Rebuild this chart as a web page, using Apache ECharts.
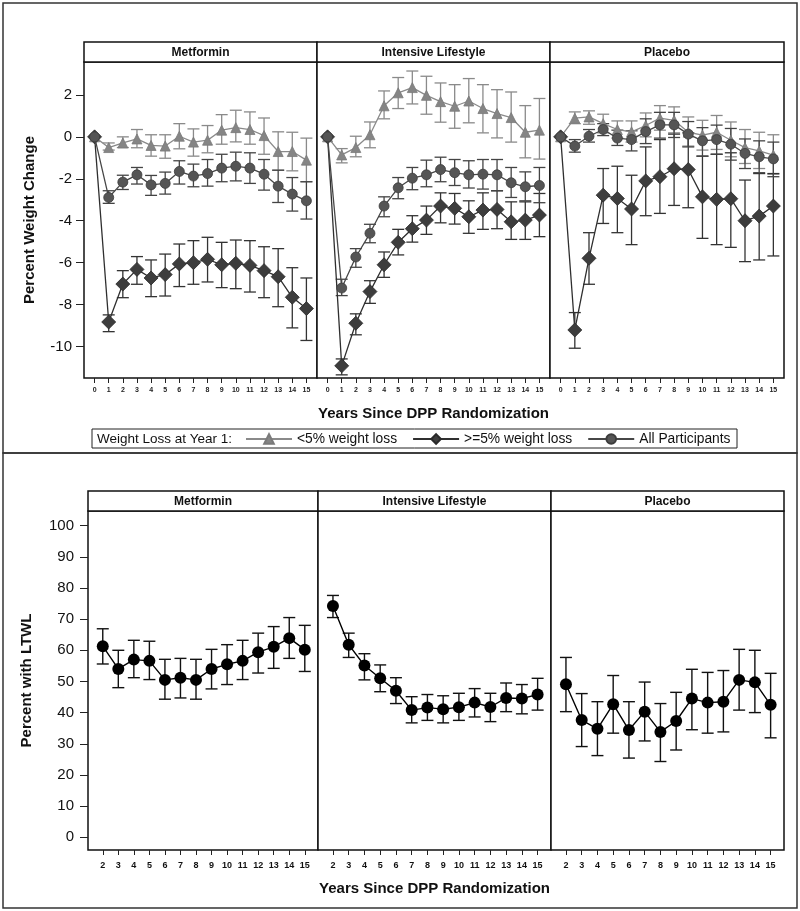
<!DOCTYPE html>
<html>
<head>
<meta charset="utf-8">
<script src="https://cdn.jsdelivr.net/npm/echarts@6/dist/echarts.min.js"></script>
<style>html,body{margin:0;padding:0;background:#fff}#c{width:800px;height:911px}</style>
</head>
<body>
<div id="c"></div>
<script>
// ---------- DATA ----------
const facetNames = ['Metformin', 'Intensive Lifestyle', 'Placebo'];
const groupNames = ['<5% weight loss', '>=5% weight loss', 'All Participants'];
const yearsTop = [0,1,2,3,4,5,6,7,8,9,10,11,12,13,14,15];
const yearsBottom = [2,3,4,5,6,7,8,9,10,11,12,13,14,15];
const yTicksTop = [-10,-8,-6,-4,-2,0,2];
const yTicksBottom = [0,10,20,30,40,50,60,70,80,90,100];

// Metformin: percent weight change
const metLt5   = [0,-0.51,-0.29,-0.10,-0.41,-0.44,0.03,-0.25,-0.16,0.32,0.44,0.35,0.06,-0.70,-0.70,-1.11];
const metLt5Lo = [null,-0.63,-0.51,-0.52,-0.92,-1.02,-0.57,-0.92,-0.76,-0.35,-0.24,-0.35,-0.83,-1.59,-1.62,-2.14];
const metLt5Hi = [null,-0.29,0.00,0.35,0.10,0.10,0.63,0.38,0.54,1.06,1.27,1.19,0.90,0.24,0.22,-0.06];
const metGe5   = [0,-8.83,-7.02,-6.32,-6.73,-6.57,-6.06,-6.00,-5.84,-6.10,-6.03,-6.13,-6.38,-6.67,-7.65,-8.19];
const metGe5Lo = [null,-9.29,-7.67,-7.03,-7.62,-7.59,-7.14,-7.03,-6.92,-7.19,-7.24,-7.40,-7.67,-8.10,-9.11,-9.71];
const metGe5Hi = [null,-8.49,-6.38,-5.71,-5.87,-5.59,-5.11,-4.95,-4.79,-5.03,-4.92,-4.95,-5.24,-5.33,-6.24,-6.73];
const metAll   = [0,-2.89,-2.16,-1.81,-2.29,-2.22,-1.65,-1.87,-1.75,-1.49,-1.40,-1.49,-1.78,-2.35,-2.73,-3.05];
const metAllLo = [null,-3.17,-2.51,-2.25,-2.79,-2.73,-2.25,-2.38,-2.35,-2.14,-2.10,-2.22,-2.54,-3.13,-3.54,-3.92];
const metAllHi = [null,-2.57,-1.83,-1.46,-1.84,-1.68,-1.14,-1.30,-1.08,-0.83,-0.73,-0.76,-1.08,-1.59,-1.94,-2.14];

// Intensive Lifestyle
const ilsLt5   = [0,-0.86,-0.51,0.10,1.48,2.10,2.35,1.98,1.68,1.46,1.71,1.35,1.11,0.92,0.22,0.32];
const ilsLt5Lo = [null,-1.24,-0.95,-0.52,0.86,1.35,1.57,1.08,0.70,0.41,0.67,0.19,-0.05,-0.25,-1.00,-1.06];
const ilsLt5Hi = [null,-0.56,0.03,0.71,2.19,2.83,3.14,2.89,2.57,2.49,2.78,2.49,2.25,2.14,1.49,1.83];
const ilsGe5   = [0,-10.92,-8.89,-7.38,-6.10,-5.03,-4.38,-3.97,-3.30,-3.41,-3.81,-3.49,-3.46,-4.05,-3.97,-3.73];
const ilsGe5Lo = [null,-11.35,-9.44,-7.94,-6.70,-5.63,-5.02,-4.65,-4.10,-4.16,-4.60,-4.41,-4.38,-4.89,-4.89,-4.76];
const ilsGe5Hi = [null,-10.59,-8.44,-6.86,-5.49,-4.41,-3.76,-3.30,-2.67,-2.70,-3.05,-2.67,-2.57,-3.10,-3.10,-2.70];
const ilsAll   = [0,-7.21,-5.73,-4.60,-3.30,-2.43,-1.97,-1.81,-1.56,-1.71,-1.81,-1.78,-1.81,-2.19,-2.38,-2.32];
const ilsAllLo = [null,-7.57,-6.22,-5.05,-3.81,-2.95,-2.52,-2.38,-2.14,-2.32,-2.44,-2.49,-2.57,-2.89,-3.05,-3.14];
const ilsAllHi = [null,-6.79,-5.33,-4.17,-2.86,-1.94,-1.46,-1.11,-0.97,-1.08,-1.14,-1.08,-1.08,-1.46,-1.67,-1.46];

// Placebo
const plaLt5   = [0,0.89,0.95,0.63,0.35,0.24,0.54,0.89,0.79,0.22,0.08,0.22,-0.16,-0.51,-0.67,-0.87];
const plaLt5Lo = [null,0.63,0.60,0.19,-0.06,-0.25,0.00,0.32,0.19,-0.44,-0.63,-0.60,-0.95,-1.27,-1.51,-1.78];
const plaLt5Hi = [null,1.19,1.24,1.08,0.76,0.76,1.14,1.49,1.43,0.95,0.79,1.02,0.71,0.35,0.22,0.10];
const plaGe5   = [0,-9.21,-5.79,-2.78,-2.94,-3.44,-2.10,-1.90,-1.52,-1.56,-2.86,-2.98,-2.95,-4.00,-3.78,-3.30];
const plaGe5Lo = [null,-10.08,-7.03,-4.13,-4.57,-5.14,-3.76,-3.65,-3.27,-3.38,-4.84,-5.14,-5.27,-5.95,-5.87,-5.68];
const plaGe5Hi = [null,-8.38,-4.57,-1.51,-1.40,-1.83,-0.48,-0.13,0.13,0.19,-0.92,-0.83,-0.76,-2.06,-1.75,-1.75];
const plaAll   = [0,-0.44,0.03,0.35,-0.06,-0.13,0.25,0.57,0.57,0.13,-0.19,-0.13,-0.35,-0.79,-0.95,-1.05];
const plaAllLo = [null,-0.73,-0.25,0.06,-0.41,-0.67,-0.32,-0.06,-0.03,-0.48,-0.92,-0.83,-1.11,-1.51,-1.71,-1.90];
const plaAllHi = [null,-0.13,0.35,0.63,0.32,0.29,0.86,1.17,1.17,0.73,0.44,0.56,0.40,-0.10,-0.19,-0.25];

// Percent with LTWL (years 2..15)
const metLtwl   = [61.3,54.0,57.0,56.6,50.5,51.2,50.5,54.0,55.5,56.6,59.4,61.1,63.9,60.2];
const metLtwlLo = [55.6,48.0,51.2,50.6,44.3,44.7,44.3,47.6,49.0,50.6,52.7,54.2,57.4,53.2];
const metLtwlHi = [66.9,60.0,63.2,62.9,57.1,57.4,57.1,60.3,61.8,63.2,65.5,67.6,70.5,68.0];
const ilsLtwl   = [74.2,61.8,55.1,51.0,47.0,40.8,41.6,41.1,41.7,43.2,41.8,44.7,44.5,45.8];
const ilsLtwlLo = [70.5,57.7,50.5,46.7,42.9,36.7,37.5,36.7,37.5,38.6,37.1,40.3,39.6,40.8];
const ilsLtwlHi = [77.6,65.5,58.9,55.3,51.2,45.1,45.8,45.4,46.2,47.7,46.2,49.5,49.0,51.0];
const plaLtwl   = [49.1,37.6,34.8,42.7,34.4,40.3,33.8,37.3,44.5,43.2,43.5,50.5,49.7,42.5];
const plaLtwlLo = [40.3,29.1,26.2,33.4,25.4,30.9,24.3,28.0,34.5,33.4,33.8,40.8,40.0,31.9];
const plaLtwlHi = [57.7,46.1,43.5,51.9,43.5,49.8,42.9,46.5,53.9,52.9,53.5,60.3,60.0,52.6];

// ---------- BUILD ----------
const FONT = '"Liberation Sans", Arial, sans-serif';
const topSets = [
  [[metLt5,metLt5Lo,metLt5Hi],[metGe5,metGe5Lo,metGe5Hi],[metAll,metAllLo,metAllHi]],
  [[ilsLt5,ilsLt5Lo,ilsLt5Hi],[ilsGe5,ilsGe5Lo,ilsGe5Hi],[ilsAll,ilsAllLo,ilsAllHi]],
  [[plaLt5,plaLt5Lo,plaLt5Hi],[plaGe5,plaGe5Lo,plaGe5Hi],[plaAll,plaAllLo,plaAllHi]]
];
const botSets = [
  [metLtwl,metLtwlLo,metLtwlHi],
  [ilsLtwl,ilsLtwlLo,ilsLtwlHi],
  [plaLtwl,plaLtwlLo,plaLtwlHi]
];
const groupStyle = [
  {symbol:'triangle', size:10, color:'#858585', line:'#8a8a8a', err:'#8a8a8a', border:'#7a7a7a'},
  {symbol:'diamond', size:14, color:'#3d3d3d', line:'#2f2f2f', err:'#333333', border:'#2a2a2a'},
  {symbol:'circle', size:10, color:'#555555', line:'#474747', err:'#444444', border:'#3c3c3c'}
];

const topGridX = [[84,317],[317,550],[550,784]];
const botGridX = [[88,318],[318,551],[551,784]];
const topY = [62,378];
const botY = [511,850];

function errRender(capHalf, color, lw){
  return function(params, api){
    const x = api.value(0), lo = api.value(1), hi = api.value(2);
    const a = api.coord([x, lo]), b = api.coord([x, hi]);
    const st = {stroke: color, lineWidth: lw};
    return {type:'group', children:[
      {type:'line', shape:{x1:a[0],y1:a[1],x2:b[0],y2:b[1]}, style:st},
      {type:'line', shape:{x1:a[0]-capHalf,y1:a[1],x2:a[0]+capHalf,y2:a[1]}, style:st},
      {type:'line', shape:{x1:b[0]-capHalf,y1:b[1],x2:b[0]+capHalf,y2:b[1]}, style:st}
    ]};
  };
}

const grids = [], xAxes = [], yAxes = [], series = [], graphics = [];

// top panels
for (let f = 0; f < 3; f++) {
  grids.push({left: topGridX[f][0], top: topY[0], width: topGridX[f][1]-topGridX[f][0], height: topY[1]-topY[0],
    show: true, borderColor: '#111', borderWidth: 1.5, backgroundColor: '#fff'});
  xAxes.push({gridIndex: f, type: 'value', min: -0.75, max: 15.75, position: 'bottom',
    axisLine: {show: false, onZero: false}, splitLine: {show: false},
    axisTick: {show: true, inside: false, customValues: yearsTop, length: 5, lineStyle: {color: '#222', width: 1}},
    axisLabel: {customValues: yearsTop, fontSize: 7, fontWeight: 'bold', color: '#222', margin: 9, fontFamily: FONT},
    name: f === 1 ? 'Years Since DPP Randomization' : '', nameLocation: 'middle', nameGap: 28,
    nameTextStyle: {fontSize: 15, fontWeight: 'bold', color: '#111', fontFamily: FONT}
  });
  yAxes.push({gridIndex: f, type: 'value', min: -11.5, max: 3.57, show: f === 0, position: 'left',
    axisLine: {show: false, onZero: false}, splitLine: {show: false},
    axisTick: {show: true, inside: false, customValues: yTicksTop, length: 8, lineStyle: {color: '#222'}},
    axisLabel: {customValues: yTicksTop, fontSize: 15, color: '#111', margin: 12, fontFamily: FONT},
    name: 'Percent Weight Change', nameLocation: 'middle', nameGap: 47, nameRotate: 90,
    nameTextStyle: {fontSize: 15, fontWeight: 'bold', color: '#111', fontFamily: FONT}
  });
  for (let g = 0; g < 3; g++) {
    const [m, lo, hi] = topSets[f][g];
    const s = groupStyle[g];
    const errData = [];
    yearsTop.forEach((yr, i) => { if (lo[i] != null) errData.push([yr, lo[i], hi[i]]); });
    series.push({type: 'custom', xAxisIndex: f, yAxisIndex: f, z: 2 + g,
      renderItem: errRender(6, s.err, 1.3), encode: {x: 0, y: [1, 2]}, data: errData, silent: true});
    series.push({type: 'line', name: groupNames[g], xAxisIndex: f, yAxisIndex: f, z: 5 + g,
      data: yearsTop.map((yr, i) => [yr, m[i]]),
      symbol: s.symbol, symbolSize: s.size,
      itemStyle: {color: s.color, borderColor: s.border, borderWidth: 0.8},
      lineStyle: {color: s.line, width: 1.3}, animation: false});
  }
}
// bottom panels
for (let f = 0; f < 3; f++) {
  const gi = 3 + f;
  grids.push({left: botGridX[f][0], top: botY[0], width: botGridX[f][1]-botGridX[f][0], height: botY[1]-botY[0],
    show: true, borderColor: '#111', borderWidth: 1.5, backgroundColor: '#fff'});
  xAxes.push({gridIndex: gi, type: 'value', min: 1.05, max: 15.85, position: 'bottom',
    axisLine: {show: false, onZero: false}, splitLine: {show: false},
    axisTick: {show: true, inside: false, customValues: yearsBottom, length: 5, lineStyle: {color: '#222'}},
    axisLabel: {customValues: yearsBottom, fontSize: 9, fontWeight: 'bold', color: '#111', margin: 11, fontFamily: FONT},
    name: f === 1 ? 'Years Since DPP Randomization' : '', nameLocation: 'middle', nameGap: 31,
    nameTextStyle: {fontSize: 15, fontWeight: 'bold', color: '#111', fontFamily: FONT}
  });
  yAxes.push({gridIndex: gi, type: 'value', min: -4.1, max: 104.7, show: f === 0, position: 'left',
    axisLine: {show: false, onZero: false}, splitLine: {show: false},
    axisTick: {show: true, inside: false, customValues: yTicksBottom, length: 8, lineStyle: {color: '#222'}},
    axisLabel: {customValues: yTicksBottom, fontSize: 15, color: '#111', margin: 14, fontFamily: FONT},
    name: 'Percent with LTWL', nameLocation: 'middle', nameGap: 54, nameRotate: 90,
    nameTextStyle: {fontSize: 15, fontWeight: 'bold', color: '#111', fontFamily: FONT}
  });
  const [m, lo, hi] = botSets[f];
  series.push({type: 'custom', xAxisIndex: gi, yAxisIndex: gi, z: 2,
    renderItem: errRender(6, '#111', 1.4), encode: {x: 0, y: [1, 2]},
    data: yearsBottom.map((yr, i) => [yr, lo[i], hi[i]]), silent: true});
  series.push({type: 'line', xAxisIndex: gi, yAxisIndex: gi, z: 5,
    data: yearsBottom.map((yr, i) => [yr, m[i]]),
    symbol: 'circle', symbolSize: 12, itemStyle: {color: '#000'},
    lineStyle: {color: '#000', width: 1.4}, animation: false});
}

// frames and facet headers
graphics.push({type: 'rect', shape: {x: 3, y: 3, width: 794, height: 450}, style: {fill: null, stroke: '#333', lineWidth: 1.5}, z: 0});
graphics.push({type: 'rect', shape: {x: 3, y: 453, width: 794, height: 455}, style: {fill: null, stroke: '#333', lineWidth: 1.5}, z: 0});
function header(x0, x1, y0, y1, label) {
  graphics.push({type: 'rect', shape: {x: x0, y: y0, width: x1 - x0, height: y1 - y0},
    style: {fill: '#fff', stroke: '#111', lineWidth: 1.5}, z: 10});
  graphics.push({type: 'text', x: (x0 + x1) / 2, y: (y0 + y1) / 2 + 1,
    style: {text: label, font: 'bold 12px ' + FONT, fill: '#111', align: 'center', verticalAlign: 'middle'}, z: 11});
}
for (let f = 0; f < 3; f++) {
  header(topGridX[f][0], topGridX[f][1], 42, topY[0], facetNames[f]);
  header(botGridX[f][0], botGridX[f][1], 491, botY[0], facetNames[f]);
}
// legend box + prefix
graphics.push({type: 'rect', shape: {x: 92, y: 429, width: 645, height: 19}, style: {fill: '#fff', stroke: '#222', lineWidth: 1}, z: 0});
graphics.push({type: 'text', x: 97, y: 439, style: {text: 'Weight Loss at Year 1:', font: '13.5px ' + FONT, fill: '#111', verticalAlign: 'middle'}, z: 11});

const option = {
  animation: false,
  backgroundColor: '#fff',
  grid: grids,
  xAxis: xAxes,
  yAxis: yAxes,
  legend: {
    data: groupNames, left: 245, top: 432, itemWidth: 46, itemHeight: 12, itemGap: 15,
    padding: 0, selectedMode: false,
    textStyle: {fontSize: 13.8, color: '#111', fontFamily: FONT}
  },
  graphic: graphics,
  series: series
};
const chart = echarts.init(document.getElementById('c'), null, {renderer: 'canvas'});
chart.setOption(option);
</script>
</body>
</html>
